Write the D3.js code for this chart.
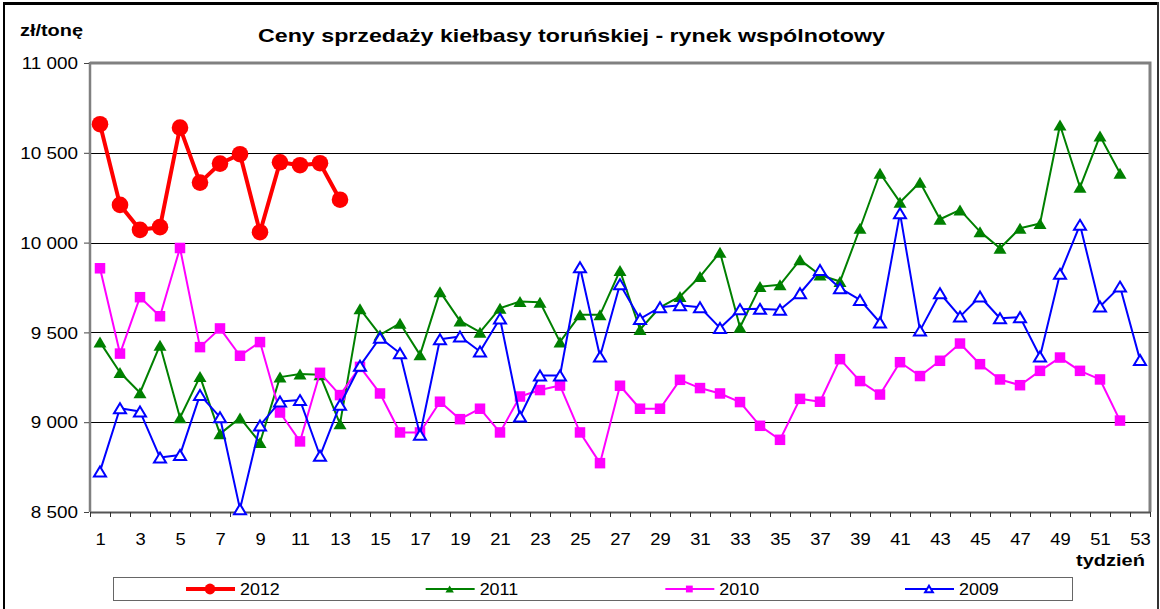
<!DOCTYPE html>
<html>
<head>
<meta charset="utf-8">
<script src="https://cdn.jsdelivr.net/npm/d3@7"></script>
<style>
  body { margin: 0; background: #fff; }
  text { font-family: "Liberation Sans", Arial, sans-serif; }
</style>
</head>
<body>
<div id="main"></div>
<script>
// week numbers on the category axis
const weeks = d3.range(1, 54);
const yTicks = [8500, 9000, 9500, 10000, 10500, 11000];

// prices per week, zł/tonę
const s2012 = [10659, 10210, 10071, 10086, 10640, 10334, 10440, 10492, 10058, 10447, 10431, 10442, 10239];
const s2011 = [9446, 9277, 9164, 9429, 9025, 9254, 8935, 9024, 8887, 9251,
    9269, 9264, 8991, 9631, 9486, 9551, 9375, 9727, 9564, 9501,
    9635, 9672, 9668, 9447, 9598, 9598, 9844, 9516, 9640, 9700,
    9811, 9946, 9529, 9755, 9765, 9904, 9820, 9783, 10080, 10386,
    10225, 10336, 10130, 10182, 10061, 9969, 10080, 10106, 10655, 10308, 10594, 10386];
const s2010 = [9857, 9382, 9696, 9590, 9970, 9418, 9522, 9370, 9446, 9054,
    8893, 9275, 9151, 9308, 9160, 8943, 8943, 9114, 9017, 9075,
    8943, 9143, 9179, 9204, 8943, 8772, 9203, 9075, 9075, 9236,
    9190, 9160, 9112, 8980, 8902, 9130, 9114, 9351, 9229, 9154,
    9334, 9257, 9342, 9438, 9323, 9238, 9206, 9286, 9360, 9286, 9238, 9009];
const s2009 = [8726, 9078, 9060, 8803, 8818, 9152, 9028, 8516, 8982, 9115,
    9123, 8813, 9097, 9314, 9470, 9384, 8930, 9462, 9477, 9394,
    9577, 9032, 9260, 9260, 9863, 9366, 9768, 9575, 9640, 9651,
    9640, 9525, 9629, 9631, 9626, 9718, 9848, 9746, 9681, 9555,
    10164, 9510, 9718, 9588, 9700, 9579, 9585, 9366, 9826, 10099, 9644, 9755, 9347];

const seriesNames = ["2012", "2011", "2010", "2009"];

onload = () => {
    const W = 1160, H = 609;
    const left = 90, right = 1150, top = 63, bottom = 512;

    let svg = d3.select("#main").append("svg").attr("width", W).attr("height", H);

    // outer frame
    svg.append("line").attr("x1", 4).attr("x2", 4).attr("y1", 2).attr("y2", H).attr("stroke", "#000").attr("stroke-width", 2);
    svg.append("line").attr("x1", 3).attr("x2", 1159).attr("y1", 3.5).attr("y2", 3.5).attr("stroke", "#000").attr("stroke-width", 3);
    svg.append("line").attr("x1", 1158).attr("x2", 1158).attr("y1", 2).attr("y2", H).attr("stroke", "#333").attr("stroke-width", 2);

    let x = d3.scaleLinear().domain([0.5, 53.5]).range([left, right]);
    let y = d3.scaleLinear().domain([8500, 11000]).range([bottom, top]);

    const fmt = d3.formatLocale({ decimal: ",", thousands: " ", grouping: [3], currency: ["", ""] }).format(",d");

    // gridlines (snapped to whole pixels so they stay crisp)
    svg.append("g")
        .selectAll("line")
        .data(yTicks.slice(1, -1))
        .join("line")
        .attr("x1", left).attr("x2", right)
        .attr("y1", d => Math.round(y(d)) + 0.5).attr("y2", d => Math.round(y(d)) + 0.5)
        .attr("stroke", "#000").attr("stroke-width", 1);

    // plot frame
    svg.append("path")
        .attr("d", `M${left},${top}H${right}V${bottom}`)
        .attr("fill", "none").attr("stroke", "#808080").attr("stroke-width", 3);
    svg.append("line").attr("x1", left).attr("x2", left).attr("y1", top - 1).attr("y2", bottom)
        .attr("stroke", "#808080").attr("stroke-width", 2.5);

    // y axis
    let yAxis = d3.axisLeft(y).tickValues(yTicks).tickFormat(fmt).tickSizeInner(5).tickSizeOuter(0);
    let yg = svg.append("g").attr("transform", `translate(${left - 1},0)`).call(yAxis);
    yg.select(".domain").remove();
    yg.selectAll("line").attr("stroke", "#444");
    yg.selectAll("text")
        .style("font-size", "16px").attr("fill", "#000")
        .attr("x", 0).attr("dy", "0.36em")
        .attr("transform", "translate(-11,0) scale(1.18,1)");

    // x axis: ticks between weeks, labels on odd weeks
    let xTickAxis = d3.axisBottom(x).tickValues(d3.range(0.5, 54, 1)).tickFormat("").tickSizeInner(5).tickSizeOuter(0);
    let xg = svg.append("g").attr("transform", `translate(0,${bottom})`).call(xTickAxis);
    xg.select(".domain").attr("stroke", "#555").attr("stroke-width", 2);
    xg.selectAll("line").attr("stroke", "#333");

    let xLabAxis = d3.axisBottom(x).tickValues(weeks.filter(w => w % 2 === 1)).tickFormat(d3.format("d")).tickSize(0);
    let xl = svg.append("g").attr("transform", `translate(0,${bottom})`).call(xLabAxis);
    xl.select(".domain").remove();
    xl.selectAll("text")
        .style("font-size", "16px").attr("fill", "#000")
        .attr("y", 0).attr("dy", 0)
        .attr("transform", "translate(0,33) scale(1.15,1)");

    // titles
    svg.append("text").attr("x", 258).attr("y", 42)
        .attr("textLength", 627).attr("lengthAdjust", "spacingAndGlyphs")
        .style("font-size", "19px").style("font-weight", "bold")
        .text("Ceny sprzedaży kiełbasy toruńskiej - rynek wspólnotowy");
    svg.append("text").attr("x", 20).attr("y", 36)
        .attr("textLength", 63).attr("lengthAdjust", "spacingAndGlyphs")
        .style("font-size", "16px").style("font-weight", "bold")
        .text("zł/tonę");
    svg.append("text").attr("x", 1076).attr("y", 566)
        .attr("textLength", 69).attr("lengthAdjust", "spacingAndGlyphs")
        .style("font-size", "16px").style("font-weight", "bold")
        .text("tydzień");

    const tri = (w, h) => `M0,${-h / 2}L${w / 2},${h / 2}L${-w / 2},${h / 2}Z`;

    const series = [
        { name: "2011", values: s2011, color: "#008000", width: 2, marker: "tri", fill: "#008000" },
        { name: "2010", values: s2010, color: "#FF00FF", width: 2, marker: "square", fill: "#FF00FF" },
        { name: "2009", values: s2009, color: "#0000FF", width: 2, marker: "otri", fill: "#fff" },
        { name: "2012", values: s2012, color: "#FF0000", width: 4, marker: "circle", fill: "#FF0000" }
    ];

    let line = d3.line().x((d, i) => x(i + 1)).y(d => y(d));

    function drawMarker(sel, s, scale) {
        if (s.marker === "circle") {
            sel.append("circle").attr("r", 8.3 * scale).attr("fill", s.fill);
        } else if (s.marker === "square") {
            let a = 10.5 * scale;
            sel.append("rect").attr("x", -a / 2).attr("y", -a / 2).attr("width", a).attr("height", a).attr("fill", s.fill);
        } else if (s.marker === "tri") {
            sel.append("path").attr("d", tri(13 * scale, 11 * scale)).attr("fill", s.fill);
        } else {
            sel.append("path").attr("d", tri(12 * scale, 10 * scale)).attr("fill", s.fill)
                .attr("stroke", s.color).attr("stroke-width", 2);
        }
    }

    series.forEach(s => {
        let g = svg.append("g").classed("series", true);
        g.append("path").datum(s.values)
            .attr("d", line)
            .attr("fill", "none").attr("stroke", s.color).attr("stroke-width", s.width)
            .attr("stroke-linejoin", "round");
        g.selectAll(".pt").data(s.values).join("g").classed("pt", true)
            .attr("transform", (d, i) => `translate(${x(i + 1)},${y(d)})`)
            .each(function () { drawMarker(d3.select(this), s, 1); });
    });

    // legend
    let lg = svg.append("g");
    lg.append("rect").attr("x", 113.5).attr("y", 577.5).attr("width", 959).attr("height", 23)
        .attr("fill", "#fff").attr("stroke", "#666").attr("stroke-width", 1);
    let legendX = d3.scalePoint().domain(seriesNames).range([240, 959]);
    seriesNames.forEach(n => {
        let s = series.find(d => d.name === n);
        let tx = legendX(n);
        let item = lg.append("g");
        item.append("line").attr("x1", tx - 54).attr("x2", tx - 5).attr("y1", 589).attr("y2", 589)
            .attr("stroke", s.color).attr("stroke-width", s.width);
        let m = item.append("g").attr("transform", `translate(${tx - 30},589)`);
        drawMarker(m, s, 0.65);
        item.append("text").attr("x", 0).attr("y", 0)
            .attr("transform", `translate(${tx},595) scale(1.12,1)`)
            .style("font-size", "16px").text(n);
    });
};
</script>
</body>
</html>
